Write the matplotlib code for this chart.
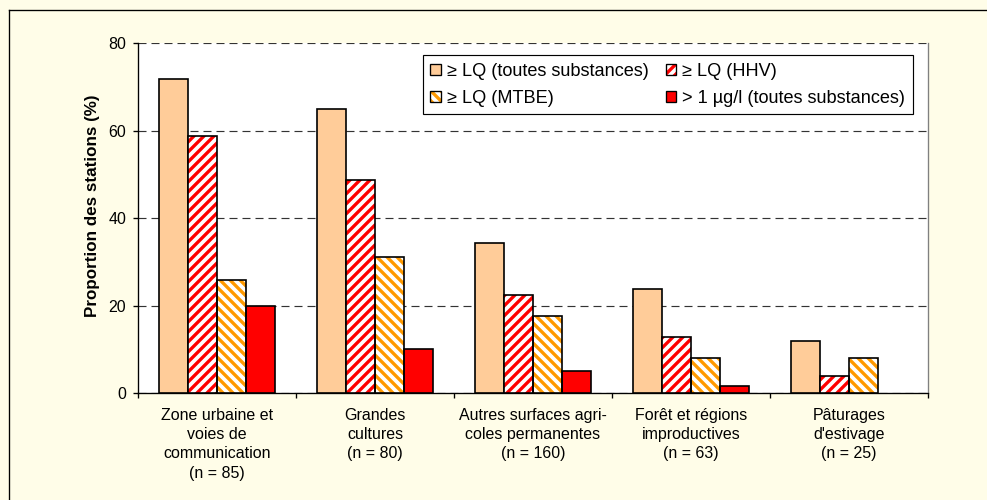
import numpy as np
import matplotlib
matplotlib.use("Agg")
import matplotlib.pyplot as plt
from matplotlib.patches import Patch
from matplotlib.lines import Line2D

DPI = 120
PX = 72 / DPI  # points per pixel
FS = 16 * PX   # ~16 px text

plt.rcParams['font.family'] = ['Liberation Sans', 'DejaVu Sans']
plt.rcParams['hatch.linewidth'] = 2.0
plt.rcParams['lines.scale_dashes'] = False

categories = ['Zone urbaine et\nvoies de\ncommunication\n(n = 85)',
              'Grandes\ncultures\n(n = 80)',
              'Autres surfaces agri-\ncoles permanentes\n(n = 160)',
              'Forêt et régions\nimproductives\n(n = 63)',
              'Pâturages\nd\'estivage\n(n = 25)']
toutes = [71.8, 65.0, 34.4, 23.8, 12.0]
hhv = [58.8, 48.8, 22.5, 12.7, 4.0]
mtbe = [25.9, 31.2, 17.5, 7.9, 8.0]
sup1 = [20.0, 10.0, 5.0, 1.6, 0.0]

labels = ['≥ LQ (toutes substances)', '≥ LQ (HHV)', '≥ LQ (MTBE)',
          '> 1 µg/l (toutes substances)']

peach = '#FFCC99'
red = '#FF0000'
orange = '#FF9900'
hatch_red = '////'
hatch_orange = '\\\\\\\\'

fig = plt.figure(figsize=(988 / DPI, 500 / DPI), dpi=DPI)
fig.patch.set_facecolor('#FFFDE8')
ax = fig.add_axes([138 / 988, 107 / 500, 790 / 988, 350 / 500])
ax.set_facecolor('white')

x = np.arange(len(categories))
w = 0.182
edge_lw = 1.0

ax.bar(x - 1.5 * w, toutes, w, color=peach, edgecolor='black', linewidth=edge_lw, zorder=3)
ax.bar(x - 0.5 * w, hhv, w, color='white', edgecolor=red, hatch=hatch_red, linewidth=0, zorder=3)
ax.bar(x - 0.5 * w, hhv, w, fill=False, edgecolor='black', linewidth=edge_lw, zorder=4)
ax.bar(x + 0.5 * w, mtbe, w, color='white', edgecolor=orange, hatch=hatch_orange, linewidth=0, zorder=3)
ax.bar(x + 0.5 * w, mtbe, w, fill=False, edgecolor='black', linewidth=edge_lw, zorder=4)
s1 = np.array(sup1)
ax.bar(x[s1 > 0] + 1.5 * w, s1[s1 > 0], w, color=red, edgecolor='black', linewidth=edge_lw, zorder=3)

ax.set_xlim(-0.5, 4.5)
ax.set_ylim(0, 80)
ax.set_yticks([0, 20, 40, 60, 80])
ax.yaxis.grid(True, linestyle=(0, (4.8, 3.0)), color='#333333', linewidth=0.7, zorder=1)
ax.set_axisbelow(True)

ax.set_xticks(x)
ax.set_xticklabels(categories, fontsize=FS, linespacing=1.35)
ax.set_xticks(np.arange(-0.5, 5, 1), minor=True)
ax.tick_params(axis='x', which='major', length=0, pad=9)
ax.tick_params(axis='x', which='minor', length=3, width=0.8, direction='out')
ax.tick_params(axis='y', labelsize=FS, length=3, width=0.8, pad=4)

ax.spines['top'].set_visible(False)
ax.spines['right'].set_color('#808080')
ax.spines['left'].set_linewidth(0.8)
ax.spines['bottom'].set_linewidth(0.8)

ax.set_ylabel('Proportion des stations (%)', fontsize=17 * PX, fontweight='bold')
ax.yaxis.set_label_coords(-0.048, 0.536)

h1 = Patch(facecolor=peach, edgecolor='black', linewidth=0.8)
h2 = (Patch(facecolor='white', edgecolor=red, hatch=hatch_red, linewidth=0),
      Patch(fill=False, edgecolor='black', linewidth=0.8))
h3 = (Patch(facecolor='white', edgecolor=orange, hatch=hatch_orange, linewidth=0),
      Patch(fill=False, edgecolor='black', linewidth=0.8))
h4 = Patch(facecolor=red, edgecolor='black', linewidth=0.8)
leg = ax.legend([h1, h3, h2, h4], [labels[0], labels[2], labels[1], labels[3]],
                ncol=2, loc='upper right', bbox_to_anchor=(913 / 988, 1 - 55 / 500),
                bbox_transform=fig.transFigure, borderaxespad=0, fontsize=18.2 * PX,
                handlelength=0.58, handleheight=0.58, handletextpad=0.35,
                columnspacing=0.9, labelspacing=0.55, borderpad=0.42,
                fancybox=False, framealpha=1, edgecolor='black')
leg.get_frame().set_linewidth(0.7)
leg.set_zorder(5)

# outer frame (left and top edges visible)
fig.add_artist(Line2D([9 / 988, 9 / 988], [0, 1 - 10 / 500], color='black', lw=0.8,
                      transform=fig.transFigure))
fig.add_artist(Line2D([9 / 988, 1], [1 - 10 / 500, 1 - 10 / 500], color='black', lw=0.8,
                      transform=fig.transFigure))

fig.savefig('out.png', dpi=DPI, facecolor=fig.get_facecolor())
